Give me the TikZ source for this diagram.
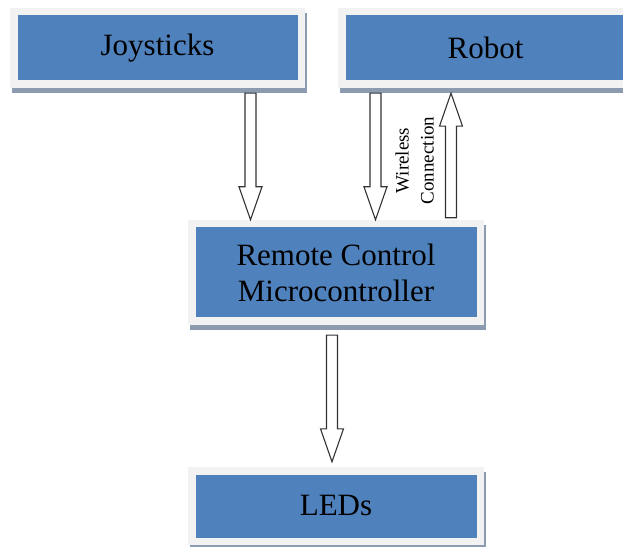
\documentclass[tikz,border=0pt]{standalone}
\usepackage{fontspec}
\setmainfont{Liberation Serif}
\usetikzlibrary{shadows,calc}
\definecolor{boxblue}{HTML}{4F81BD}
\definecolor{rimgray}{HTML}{F2F2F2}
\definecolor{shadowgray}{RGB}{140,155,175}
\begin{document}
\begin{tikzpicture}[
        x = 1pt, y = 1pt,
        block/.style = {
          fill = rimgray, minimum width = 295pt, minimum height = 80pt,
          inner sep = 0pt, align = center,
          font = \fontsize{31}{36}\selectfont,
          drop shadow = {shadow xshift = 2pt, shadow yshift = -5pt,
                         fill = shadowgray, opacity = 1},
          path picture = {\fill[boxblue]
            ([shift={(7.5pt,7.5pt)}]path picture bounding box.south west)
            rectangle
            ([shift={(-7.5pt,-7.5pt)}]path picture bounding box.north east);}
        },
        blockarrow/.style = {
          draw = black!80, fill = white, line width = 1.1pt,
          to path = {let \p1 = (\tikztostart), \p2 = (\tikztotarget),
                         \n1 = {ifthenelse(\y2>\y1,1,-1)} in
            (\x1-5.5pt,\y1) -- (\x1-5.5pt,\y2-\n1*33pt)
            -- (\x1-11.5pt,\y2-\n1*33pt) -- (\x1,\y2)
            -- (\x1+11.5pt,\y2-\n1*33pt) -- (\x1+5.5pt,\y2-\n1*33pt)
            -- (\x1+5.5pt,\y1) -- cycle}
        }
      ]
      \useasboundingbox (0, 0) rectangle (623, 546);
      % nodes
      \node[block] (joy)   at (157.5, 498) {Joysticks};
      \node[block] (robot) at (485.5, 498) {Robot};
      \node[block, minimum width = 296pt, minimum height = 105pt]
                   (rc)    at (336, 273.5) {Remote Control\\Microcontroller};
      \node[block, minimum width = 296pt, minimum height = 78pt]
                   (leds)  at (336, 40) {LEDs};
      \node[rotate = 90, align = center, inner sep = 0pt,
            font = \fontsize{19}{25}\selectfont]
                   (wl)    at (414.5, 385.5) {Wireless\\Connection};
      % arrow ends
      \coordinate (jtop)  at ([xshift = 93pt, yshift = -5pt]joy.south);
      \coordinate (rdown) at ([xshift = -110pt, yshift = -5pt]robot.south);
      \coordinate (rup)   at ([xshift = -34.5pt, yshift = -5pt]robot.south);
      \coordinate (ltop)  at ([xshift = -4pt, yshift = -10pt]rc.south);
      % arrows
      \draw[blockarrow] (jtop)  to (jtop |- rc.north);
      \draw[blockarrow] (rdown) to (rdown |- rc.north);
      \draw[blockarrow] ($(rup |- rc.north)+(0,2)$) to (rup);
      \draw[blockarrow] (ltop)  to ($(ltop |- leds.north)+(0,5)$);
    \end{tikzpicture}
\end{document}
